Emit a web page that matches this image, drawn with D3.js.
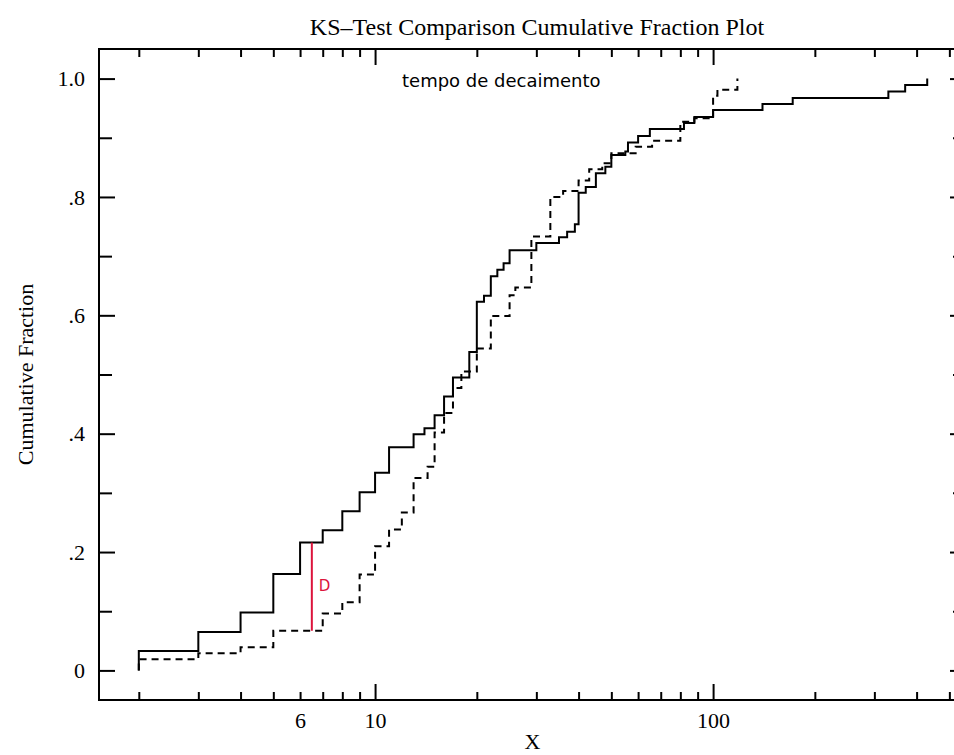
<!DOCTYPE html>
<html>
<head>
<meta charset="utf-8">
<title>KS-Test Comparison</title>
<script src="https://cdn.jsdelivr.net/npm/d3@7"></script>
<style>
    body { margin: 0; background: #fff; }
    #chart-area { width: 954px; height: 755px; overflow: hidden; }
    .axis line { stroke: #000; stroke-width: 2px; }
    .axis path { display: none; }
    .axis text { font-family: "Liberation Serif", "Times New Roman", serif; font-size: 22px; fill: #000; }
</style>
</head>
<body>
<div id="chart-area"></div>
<script>

// sample 1 (solid) - jump positions and cumulative fraction after each jump
var solidX = [2, 3, 4, 5, 6, 7, 8, 9, 10, 11, 13, 14, 15, 16, 17, 19, 20, 21, 22, 23, 24, 25,
    30, 35, 37, 39, 40, 42, 45, 48, 50, 55, 56, 60, 65, 82, 88, 100, 140, 172, 330, 370, 430];
var solidF = [0.033, 0.065, 0.098, 0.163, 0.216, 0.237, 0.269, 0.301, 0.334, 0.377, 0.399, 0.409,
    0.431, 0.463, 0.495, 0.538, 0.623, 0.633, 0.666, 0.677, 0.688, 0.710, 0.722, 0.732, 0.741,
    0.754, 0.807, 0.817, 0.840, 0.851, 0.871, 0.877, 0.892, 0.903, 0.915, 0.925, 0.935, 0.947,
    0.957, 0.967, 0.978, 0.989, 1.0];

// sample 2 (dashed)
var dashX = [2, 3, 4, 5, 7, 8, 9, 10, 11, 12, 13, 14.3, 15, 16, 17, 18, 20, 22, 25, 26, 29,
    33, 36, 40, 43, 47, 50, 59, 66, 80, 88, 100, 103, 118];
var dashF = [0.019, 0.029, 0.039, 0.067, 0.096, 0.115, 0.162, 0.210, 0.238, 0.267, 0.325, 0.344,
    0.402, 0.435, 0.477, 0.505, 0.544, 0.599, 0.634, 0.647, 0.733, 0.800, 0.810, 0.828, 0.847,
    0.857, 0.874, 0.885, 0.895, 0.927, 0.933, 0.971, 0.981, 1.0];

// where the max distance D is marked
var dAtX = 6.5;

// ticks
var xMajorTicks = [10, 100];
var xMinorTicks = [2, 3, 4, 5, 6, 7, 8, 9, 20, 30, 40, 50, 60, 70, 80, 90, 200, 300, 400, 500];
var xMinorLabels = [6];
var yMajorTicks = [0, 0.2, 0.4, 0.6, 0.8, 1.0];
var yMinorTicks = [0.1, 0.3, 0.5, 0.7, 0.9];
var xDomain = [1.525, 560];
var yDomain = [-0.05, 1.05];

var titleText = "KS\u2013Test Comparison Cumulative Fraction Plot";
var noteText = "tempo de decaimento";


KSPlot = function(_parentElement){
    this.parentElement = _parentElement;
    this.initVis();
}

KSPlot.prototype.initVis = function(){
    var vis = this;

    // right edge of the frame runs past the picture, like the original
    vis.margin = {top: 49, right: -12, bottom: 55, left: 99};
    vis.width = 954 - vis.margin.left - vis.margin.right;
    vis.height = 755 - vis.margin.top - vis.margin.bottom;

    vis.svg = d3.select("#" + vis.parentElement).append("svg")
        .attr("width", 954)
        .attr("height", 755);

    vis.focus = vis.svg.append("g")
        .attr("transform", "translate(" + vis.margin.left + "," + vis.margin.top + ")");

    vis.x = d3.scaleLog()
        .domain(xDomain)
        .range([0, vis.width]);

    vis.y = d3.scaleLinear()
        .domain(yDomain)
        .range([vis.height, 0]);

    // frame
    vis.focus.append("rect")
        .attr("width", vis.width)
        .attr("height", vis.height)
        .attr("fill", "none")
        .attr("stroke", "#000")
        .attr("stroke-width", 2);

    var yFormat = function(d){
        if (d === 0) return "0";
        if (d === 1) return "1.0";
        return d3.format(".1f")(d).replace(/^0/, "");
    };

    // bottom: minor ticks (only 6 gets a label), then major
    vis.focus.append("g")
        .attr("class", "axis")
        .attr("transform", "translate(0," + vis.height + ")")
        .call(d3.axisBottom(vis.x).tickValues(xMinorTicks).tickSize(-8).tickPadding(12)
            .tickFormat(function(d){ return xMinorLabels.indexOf(d) >= 0 ? d : ""; }));
    vis.focus.append("g")
        .attr("class", "axis")
        .attr("transform", "translate(0," + vis.height + ")")
        .call(d3.axisBottom(vis.x).tickValues(xMajorTicks).tickSize(-16).tickPadding(12)
            .tickFormat(d3.format("d")));

    // top
    vis.focus.append("g")
        .attr("class", "axis")
        .call(d3.axisTop(vis.x).tickValues(xMinorTicks).tickSize(-8).tickFormat(""));
    vis.focus.append("g")
        .attr("class", "axis")
        .call(d3.axisTop(vis.x).tickValues(xMajorTicks).tickSize(-16).tickFormat(""));

    // left
    vis.focus.append("g")
        .attr("class", "axis")
        .call(d3.axisLeft(vis.y).tickValues(yMinorTicks).tickSize(-13).tickFormat(""));
    vis.focus.append("g")
        .attr("class", "axis")
        .call(d3.axisLeft(vis.y).tickValues(yMajorTicks).tickSize(-16).tickPadding(14)
            .tickFormat(yFormat));

    // right
    vis.focus.append("g")
        .attr("class", "axis")
        .attr("transform", "translate(" + vis.width + ",0)")
        .call(d3.axisRight(vis.y).tickValues(yMinorTicks).tickSize(-13).tickFormat(""));
    vis.focus.append("g")
        .attr("class", "axis")
        .attr("transform", "translate(" + vis.width + ",0)")
        .call(d3.axisRight(vis.y).tickValues(yMajorTicks).tickSize(-16).tickFormat(""));

    // step lines
    vis.line = d3.line()
        .x(function(d) { return vis.x(d[0]); })
        .y(function(d) { return vis.y(d[1]); })
        .curve(d3.curveStepAfter);

    vis.series = [
        {id: "solid", xs: solidX, fs: solidF, dash: null},
        {id: "dashed", xs: dashX, fs: dashF, dash: "7,5"}
    ];

    vis.focus.selectAll(".cdf")
        .data(vis.series)
        .enter().append("path")
        .attr("class", "cdf")
        .attr("fill", "none")
        .attr("stroke", "#000")
        .attr("stroke-width", 2)
        .attr("stroke-dasharray", function(d){ return d.dash; })
        .attr("d", function(d){
            var pts = [[d.xs[0], 0]];
            d.xs.forEach(function(v, i){ pts.push([v, d.fs[i]]); });
            return vis.line(pts);
        });

    // D marker between the two curves
    var cdfAt = function(s, v){
        var i = d3.bisectRight(s.xs, v);
        return i === 0 ? 0 : s.fs[i - 1];
    };
    var dHi = cdfAt(vis.series[0], dAtX),
        dLo = cdfAt(vis.series[1], dAtX);

    vis.focus.append("line")
        .attr("x1", vis.x(dAtX)).attr("x2", vis.x(dAtX))
        .attr("y1", vis.y(dHi)).attr("y2", vis.y(dLo))
        .attr("stroke", "#dc143c")
        .attr("stroke-width", 2);

    vis.focus.append("text")
        .attr("x", vis.x(dAtX) + 7)
        .attr("y", vis.y((dHi + dLo) / 2) + 4)
        .attr("fill", "#dc143c")
        .style("font-family", "'DejaVu Sans', sans-serif")
        .style("font-size", "15px")
        .text("D");

    // labels
    vis.svg.append("text")
        .attr("x", 537)
        .attr("y", 35)
        .attr("text-anchor", "middle")
        .style("font-family", "'Liberation Serif', serif")
        .style("font-size", "24px")
        .text(titleText);

    vis.svg.append("text")
        .attr("x", 402)
        .attr("y", 87)
        .style("font-family", "'DejaVu Sans', sans-serif")
        .style("font-size", "18px")
        .text(noteText);

    vis.svg.append("text")
        .attr("x", vis.margin.left + vis.width / 2)
        .attr("y", 749)
        .attr("text-anchor", "middle")
        .style("font-family", "'Liberation Serif', serif")
        .style("font-size", "22px")
        .text("X");

    vis.svg.append("text")
        .attr("transform", "translate(33," + (vis.margin.top + vis.height / 2) + ") rotate(-90)")
        .attr("text-anchor", "middle")
        .style("font-family", "'Liberation Serif', serif")
        .style("font-size", "22px")
        .text("Cumulative Fraction");
}

var ksPlot = new KSPlot("chart-area");

</script>
</body>
</html>
